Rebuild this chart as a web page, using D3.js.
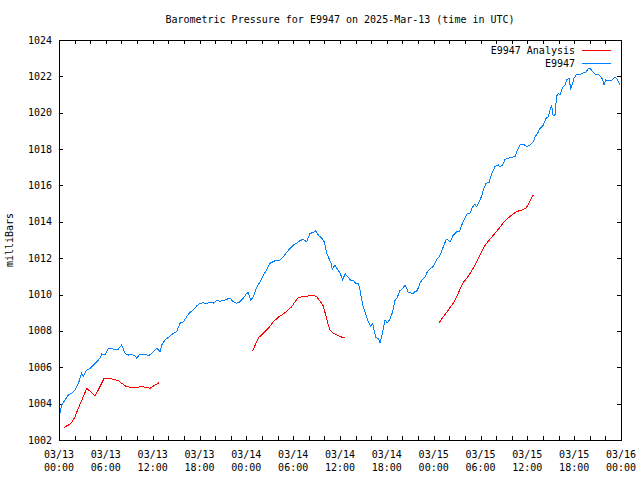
<!DOCTYPE html>
<html>
<head>
<meta charset="utf-8">
<script src="https://cdn.jsdelivr.net/npm/d3@7"></script>
<style>
  html, body { margin: 0; padding: 0; background: #fff; }
  svg { display: block; }
  text { font-family: "DejaVu Sans Mono", "Liberation Mono", monospace; font-size: 10px; fill: #000; }
</style>
</head>
<body>
<svg id="chart" width="640" height="480"></svg>
<script>
// ---------- DATA (hours after 2025-03-13 00:00 UTC, pressure in mbar) ----------
const titleText = "Barometric Pressure for E9947 on 2025-Mar-13 (time in UTC)";
const yLabel = "milliBars";
const seriesNames = ["E9947 Analysis", "E9947"];
const yTickValues = [1002,1004,1006,1008,1010,1012,1014,1016,1018,1020,1022,1024];
const xLabelHours = [0,6,12,18,24,30,36,42,48,54,60,66,72];

const stationHours = [0.13,0.35,0.77,1.19,1.63,2.05,2.47,2.91,3.11,3.55,3.97,4.39,4.83,5.25,5.47,5.89,6.32,6.96,7.60,8.03,8.46,8.88,9.31,9.74,9.95,10.38,11.02,11.44,11.88,12.52,12.94,13.16,13.58,14.22,14.64,15.08,15.50,15.92,16.36,16.78,17.20,17.64,18.06,18.49,18.92,19.34,19.77,20.20,20.63,21.05,21.48,21.91,22.33,22.76,23.19,23.61,24.05,24.25,24.56,24.89,25.33,25.75,26.17,26.61,27.03,27.67,28.31,28.73,29.17,29.59,30.02,30.45,30.87,31.30,31.73,32.15,32.58,32.92,33.22,33.65,33.99,34.29,34.59,34.85,35.01,35.36,35.65,36.00,36.32,36.68,37.06,37.34,37.79,38.05,38.34,38.56,38.78,38.98,39.33,39.62,39.93,40.19,40.35,40.61,40.90,41.12,41.34,41.55,41.76,42.06,42.40,42.75,43.04,43.34,43.68,44.03,44.32,44.54,44.75,45.06,45.31,45.61,45.90,46.25,46.59,46.89,47.18,47.53,47.95,48.36,48.81,49.15,49.58,49.74,50.09,50.51,50.95,51.28,51.59,52.01,52.23,52.65,53.00,53.29,53.51,53.84,54.15,54.36,54.70,55.12,55.30,55.56,55.85,56.28,56.49,56.84,57.14,57.56,58.00,58.42,58.71,59.06,59.48,59.92,60.34,60.76,60.98,61.27,61.62,62.04,62.39,62.68,62.90,63.12,63.32,63.54,63.76,63.97,64.18,64.53,64.82,65.04,65.34,65.55,65.81,65.98,66.32,66.74,67.17,67.47,67.73,68.02,68.37,68.66,69.09,69.40,69.65,69.82,70.03,70.37,70.80,71.01,71.32,71.57,71.87];
const stationPressure = [1003.47,1003.93,1004.20,1004.47,1004.57,1004.75,1005.10,1005.67,1005.48,1005.85,1005.94,1006.10,1006.30,1006.50,1006.73,1006.67,1007.04,1007.00,1007.00,1007.22,1006.77,1006.67,1006.73,1006.62,1006.50,1006.73,1006.73,1006.62,1006.77,1007.04,1006.86,1007.22,1007.50,1007.72,1007.87,1007.96,1008.42,1008.50,1008.78,1009.02,1009.15,1009.37,1009.52,1009.55,1009.48,1009.60,1009.52,1009.66,1009.64,1009.66,1009.74,1009.80,1009.60,1009.52,1009.60,1009.80,1010.07,1010.10,1009.70,1009.88,1010.40,1010.70,1011.07,1011.35,1011.72,1011.86,1011.90,1012.08,1012.32,1012.54,1012.72,1012.82,1012.96,1013.04,1012.90,1013.37,1013.40,1013.51,1013.27,1013.10,1012.90,1012.27,1011.99,1011.72,1011.40,1011.62,1011.40,1011.20,1010.82,1011.13,1010.96,1010.80,1010.76,1010.58,1010.62,1010.25,1009.70,1009.33,1008.87,1008.50,1008.27,1008.42,1008.05,1007.63,1007.59,1007.35,1007.68,1008.14,1008.60,1008.45,1008.64,1009.06,1009.66,1009.85,1010.21,1010.34,1010.52,1010.34,1010.10,1010.10,1010.03,1010.16,1010.21,1010.65,1010.84,1010.95,1011.25,1011.40,1011.55,1011.90,1012.15,1012.54,1013.00,1013.05,1012.90,1013.27,1013.46,1013.46,1013.82,1014.19,1014.43,1014.47,1014.83,1014.98,1014.83,1015.11,1015.42,1015.75,1016.12,1016.18,1016.48,1016.76,1017.03,1017.13,1017.03,1017.13,1017.44,1017.49,1017.55,1017.58,1017.95,1018.22,1018.28,1018.13,1018.22,1018.40,1018.68,1018.83,1019.14,1019.32,1019.69,1019.78,1020.15,1020.37,1019.82,1019.87,1020.92,1021.07,1020.98,1021.40,1021.52,1021.80,1021.89,1021.34,1021.62,1021.89,1022.11,1022.11,1022.20,1022.20,1022.39,1022.44,1022.26,1022.13,1022.13,1021.98,1021.84,1021.52,1021.80,1021.76,1021.76,1021.89,1021.95,1021.80,1021.52];

// null marks a gap between analysis runs
const analysisHours = [0.68,1.19,1.63,2.05,2.47,3.11,3.55,4.19,4.61,5.03,5.47,5.76,6.53,6.96,7.60,8.03,8.67,9.31,9.95,10.59,11.24,11.66,12.30,12.81,
  null,
  24.79,25.33,25.62,26.17,26.81,27.45,28.09,28.73,29.37,29.80,30.23,30.66,31.30,31.94,32.58,33.01,33.44,33.86,34.17,34.50,34.72,35.14,35.58,36.00,36.64,
  null,
  48.72,49.23,49.87,50.51,50.95,51.37,51.72,52.23,52.74,53.29,53.84,54.36,54.70,55.21,55.85,56.49,57.14,57.99,58.63,59.27,59.83,60.25,60.76];
const analysisPressure = [1002.70,1002.82,1002.95,1003.28,1003.74,1004.38,1004.84,1004.60,1004.42,1004.75,1005.12,1005.39,1005.39,1005.34,1005.26,1005.12,1004.93,1004.90,1004.90,1004.93,1004.90,1004.84,1005.02,1005.15,
  null,
  1006.89,1007.40,1007.65,1007.87,1008.14,1008.50,1008.75,1008.93,1009.15,1009.33,1009.60,1009.85,1009.88,1009.92,1009.96,1009.88,1009.64,1009.37,1008.87,1008.32,1008.05,1007.87,1007.78,1007.68,1007.63,
  null,
  1008.45,1008.78,1009.15,1009.52,1009.88,1010.29,1010.62,1010.89,1011.20,1011.62,1012.08,1012.54,1012.78,1013.04,1013.37,1013.70,1014.06,1014.37,1014.56,1014.65,1014.74,1015.05,1015.48];

const colors = { analysis: "#ff0000", station: "#0080ff" };

// ---------- CHART ----------
const t0 = Date.UTC(2025, 2, 13, 0, 0);
const toDate = h => new Date(t0 + h * 3600e3);

const margin = { left: 59, right: 621, top: 40, bottom: 440 };
const svg = d3.select("#chart");

const x = d3.scaleUtc().domain([toDate(0), toDate(72)]).range([margin.left, margin.right]);
const y = d3.scaleLinear().domain([1002, 1024]).range([margin.bottom, margin.top]);

const stationData = stationHours.map((h, i) => ({ t: toDate(h), v: stationPressure[i] }));
const analysisData = analysisHours.map((h, i) => ({ t: h == null ? null : toDate(h), v: analysisPressure[i] }));

// axes with inward ticks (every 2 hours on x)
const xTicks = d3.range(0, 73, 2).map(toDate);
const tickLen = 4;

function styleAxis(g) {
  g.select(".domain").remove();
  g.selectAll(".tick line").attr("stroke", "#000").attr("shape-rendering", "crispEdges");
  g.selectAll(".tick text").remove();
}

svg.append("g").attr("transform", `translate(0,${margin.bottom})`)
  .call(d3.axisBottom(x).tickValues(xTicks).tickSize(-tickLen).tickFormat(""))
  .call(styleAxis);
svg.append("g").attr("transform", `translate(0,${margin.top})`)
  .call(d3.axisTop(x).tickValues(xTicks).tickSize(-tickLen).tickFormat(""))
  .call(styleAxis);
svg.append("g").attr("transform", `translate(${margin.left},0)`)
  .call(d3.axisLeft(y).tickValues(yTickValues).tickSize(-tickLen).tickFormat(""))
  .call(styleAxis);
svg.append("g").attr("transform", `translate(${margin.right},0)`)
  .call(d3.axisRight(y).tickValues(yTickValues).tickSize(-tickLen).tickFormat(""))
  .call(styleAxis);

// y tick labels
svg.append("g").selectAll("text").data(yTickValues).join("text")
  .attr("x", margin.left - 7)
  .attr("y", d => y(d))
  .attr("dy", "0.35em")
  .attr("text-anchor", "end")
  .text(d => d);

// x tick labels (two lines)
const fmtDay = d3.utcFormat("%m/%d");
const fmtTime = d3.utcFormat("%H:%M");
const xl = svg.append("g").selectAll("text").data(xLabelHours.map(toDate)).join("text")
  .attr("text-anchor", "middle")
  .attr("transform", d => `translate(${x(d)},0)`);
xl.append("tspan").attr("x", 0).attr("y", 458).text(fmtDay);
xl.append("tspan").attr("x", 0).attr("y", 471).text(fmtTime);

// frame
svg.append("rect")
  .attr("x", margin.left + 0.5).attr("y", margin.top + 0.5)
  .attr("width", margin.right - margin.left).attr("height", margin.bottom - margin.top)
  .attr("fill", "none").attr("stroke", "#000").attr("shape-rendering", "crispEdges");

// lines
const line = d3.line().defined(d => d.t != null && d.v != null).x(d => x(d.t)).y(d => y(d.v));

svg.append("path").datum(analysisData)
  .attr("fill", "none").attr("stroke", colors.analysis).attr("stroke-width", 1)
  .attr("shape-rendering", "crispEdges")
  .attr("d", line);
svg.append("path").datum(stationData)
  .attr("fill", "none").attr("stroke", colors.station).attr("stroke-width", 1)
  .attr("shape-rendering", "crispEdges")
  .attr("d", line);

// title
svg.append("text").attr("x", 340).attr("y", 23).attr("text-anchor", "middle").text(titleText);

// y label
svg.append("text").attr("transform", "translate(13,240) rotate(-90)")
  .attr("text-anchor", "middle").text(yLabel);

// legend
const legend = [
  { name: seriesNames[0], color: colors.analysis, y: 50 },
  { name: seriesNames[1], color: colors.station, y: 63 }
];
const lg = svg.append("g");
legend.forEach(l => {
  lg.append("text").attr("x", 575).attr("y", l.y).attr("dy", "0.35em").attr("text-anchor", "end").text(l.name);
  lg.append("line").attr("x1", 582).attr("x2", 611).attr("y1", l.y + 0.5).attr("y2", l.y + 0.5)
    .attr("stroke", l.color).attr("shape-rendering", "crispEdges");
});
</script>
</body>
</html>
